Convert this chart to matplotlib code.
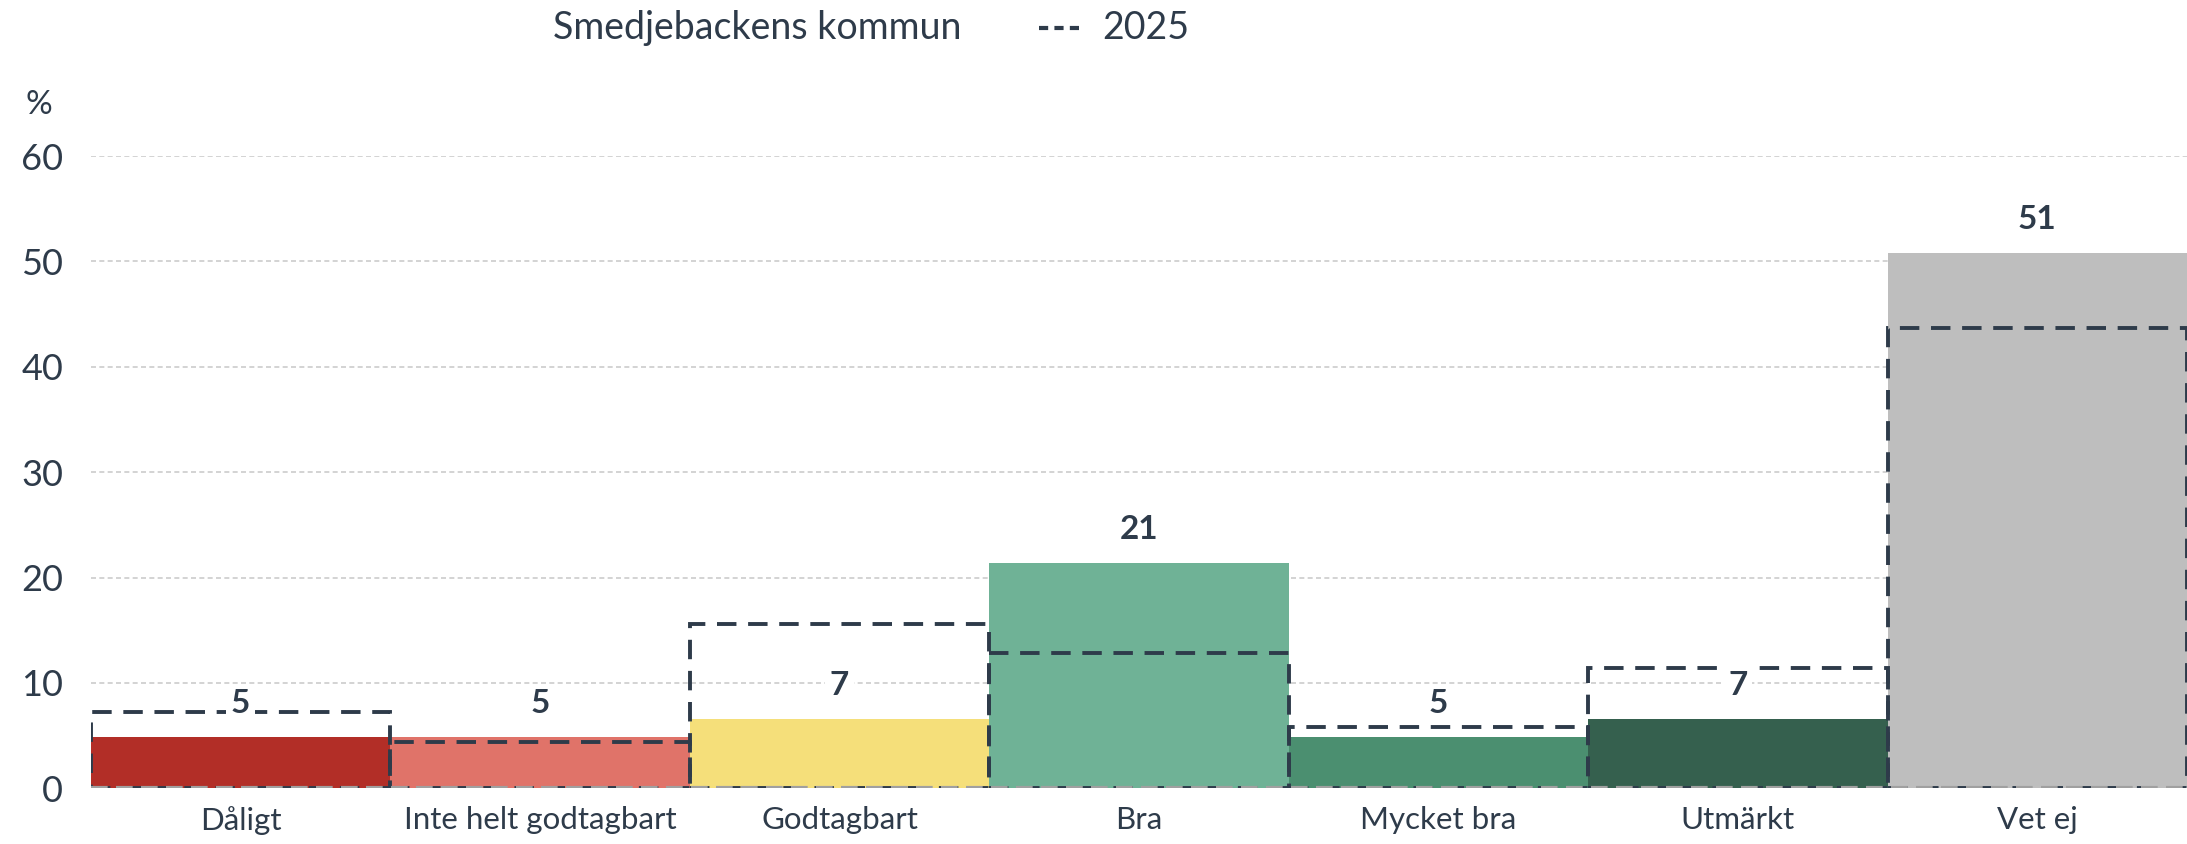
import matplotlib.pyplot as plt
from matplotlib.lines import Line2D

# data
categories = ["Dåligt", "Inte helt godtagbart", "Godtagbart", "Bra", "Mycket bra", "Utmärkt", "Vet ej"]
kommun = [4.9, 4.9, 6.6, 21.4, 4.9, 6.6, 50.8]
kommun_labels = ["5", "5", "7", "21", "5", "7", "51"]
year_2025 = [7.2, 4.4, 15.6, 12.8, 5.8, 11.4, 43.7]
bar_colors = ["#b22e27", "#e07369", "#f5df7a", "#6fb296", "#4b8f70", "#35604e", "#bebebe"]

text_col = "#2e3b4a"
plt.rcParams['font.family'] = ['Lato', 'DejaVu Sans']

fig = plt.figure(figsize=(21.87, 8.44), dpi=100)
ax = fig.add_axes([0.0416, 0.066, 0.9584, 0.749])

x = range(len(categories))
ax.bar(x, kommun, width=1.0, color=bar_colors, zorder=2)
ax.bar(x, year_2025, width=1.0, fill=False, edgecolor=text_col, linewidth=2.8,
       linestyle=(0, (5, 3)), zorder=3)

# value labels with white background
for i, (v, lab) in enumerate(zip(kommun, kommun_labels)):
    ax.annotate(lab, (i, v), xytext=(0, 24), textcoords='offset points',
                ha='center', va='center', fontsize=24, fontweight='bold', color=text_col,
                bbox=dict(boxstyle='square,pad=0.15', fc='white', ec='none'), zorder=5,
                annotation_clip=False)

ax.set_xlim(-0.5, len(categories) - 0.5)
ax.set_ylim(0, 60)
ax.set_yticks(range(0, 61, 10))
ax.set_xticks(list(x))
ax.set_xticklabels(categories)
ax.tick_params(axis='x', length=0, pad=13, labelsize=22.5, labelcolor=text_col)
ax.tick_params(axis='y', length=0, pad=20, labelsize=26, labelcolor=text_col)
for s in ax.spines.values():
    s.set_visible(False)
ax.yaxis.grid(True, color='#cccccc', linestyle=(0, (3, 2)), linewidth=1.2, zorder=0)
ax.set_axisbelow(True)
ax.axhline(0, color='#a0a0a0', linestyle=(0, (4, 2)), linewidth=3, zorder=4)

fig.text(0.0178, 0.876, "%", fontsize=24, color=text_col, ha='center', va='center')

# legend
fig.text(0.253, 0.967, "Smedjebackens kommun", fontsize=27, color=text_col, va='center')
fig.add_artist(Line2D([0.475, 0.496], [0.967, 0.967], transform=fig.transFigure,
                      color=text_col, linewidth=3, linestyle=(0, (2.2, 1.5))))
fig.text(0.504, 0.967, "2025", fontsize=27, color=text_col, va='center')

fig.savefig("out.png", dpi=100)
